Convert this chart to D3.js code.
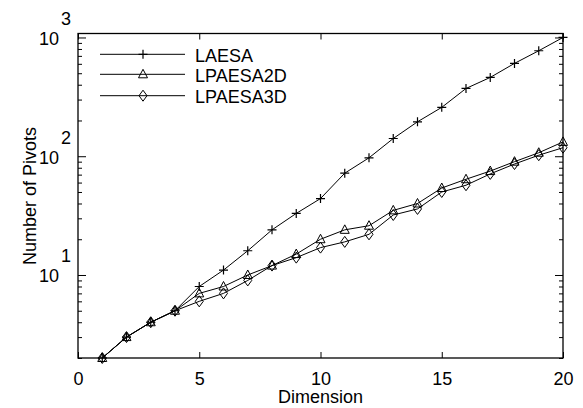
<!DOCTYPE html>
<html>
<head>
<meta charset="utf-8">
<script src="https://cdn.jsdelivr.net/npm/d3@7"></script>
<style>
  body { margin: 0; background: #fff; }
  text { font-family: "Liberation Sans", Arial, sans-serif; fill: #000; }
</style>
</head>
<body>
<svg id="mainsvg" width="583" height="408"></svg>
<script>
const dims = d3.range(1, 21);
const laesa = [2, 3, 4, 5, 8, 11, 16, 24, 33, 44, 72, 97, 141, 195, 258, 372, 461, 605, 773, 1000];
const lpaesa2d = [2, 3, 4, 5, 7, 8, 10, 12, 15, 20, 24, 26, 35, 40, 54, 64, 75, 90, 107, 132];
const lpaesa3d = [2, 3, 4, 5, 6, 7, 9, 12, 14, 17, 19, 22, 32, 36, 50, 57, 71, 86, 102, 118];
const seriesNames = ['LAESA', 'LPAESA2D', 'LPAESA3D'];
const seriesMarks = ['plus', 'triangle', 'diamond'];
const xTicks = [0, 5, 10, 15, 20];
const yMajor = [10, 100, 1000];
const yExp = ['1', '2', '3'];

const svg = d3.select('#mainsvg');
const mLeft = 78, mRight = 563, mTop = 33.5, mBottom = 358;

const x = d3.scaleLinear().domain([0, 20]).range([mLeft, mRight]);
const y = d3.scaleLog().domain([2, 1080]).range([mBottom, mTop]);

// minor ticks 2..9 x 10^k inside domain
const yMinor = [];
[1, 10, 100, 1000].forEach(p => d3.range(2, 10).forEach(m => {
  const v = m * p;
  if (v >= 2 && v <= 1080 && !yMajor.includes(v)) yMinor.push(v);
}));

const axisG = svg.append('g');
const mk = (axis, tx, ty) => {
  const g = axisG.append('g').attr('transform', `translate(${tx},${ty})`).call(axis);
  g.select('.domain').remove();
  g.selectAll('line').attr('stroke', '#000');
  return g;
};
mk(d3.axisBottom(x).tickValues(xTicks).tickSize(-6).tickPadding(14).tickFormat(d3.format('d')), 0, mBottom)
  .selectAll('text').attr('font-size', 18).attr('font-family', '"Liberation Sans", Arial, sans-serif');
mk(d3.axisTop(x).tickValues(xTicks).tickSize(-6).tickFormat(''), 0, mTop);
mk(d3.axisLeft(y).tickValues(yMajor).tickSize(-8).tickFormat(''), mLeft, 0);
mk(d3.axisLeft(y).tickValues(yMinor).tickSize(-4).tickFormat(''), mLeft, 0);
mk(d3.axisRight(y).tickValues(yMajor).tickSize(-8).tickFormat(''), mRight, 0);
mk(d3.axisRight(y).tickValues(yMinor).tickSize(-4).tickFormat(''), mRight, 0);

// y tick labels with exponent
yMajor.forEach((v, i) => {
  svg.append('text').attr('x', 59).attr('y', y(v) + 7.5)
    .attr('text-anchor', 'end').attr('font-size', 18).text('10');
  svg.append('text').attr('x', 61).attr('y', y(v) - 12.5)
    .attr('font-size', 18).text(yExp[i]);
});

svg.append('rect').attr('x', mLeft).attr('y', mTop)
  .attr('width', mRight - mLeft).attr('height', mBottom - mTop)
  .attr('fill', 'none').attr('stroke', '#000').attr('stroke-width', 1.3);

svg.append('text').attr('x', (mLeft + mRight) / 2).attr('y', 403)
  .attr('text-anchor', 'middle').attr('font-size', 18).text('Dimension');
svg.append('text').attr('transform', 'translate(36,196) rotate(-90)')
  .attr('text-anchor', 'middle').attr('font-size', 18).text('Number of Pivots');

const marker = (g, type, cx, cy) => {
  if (type === 'plus') {
    g.append('path').attr('d', `M${cx - 4.5},${cy}H${cx + 4.5}M${cx},${cy - 4.5}V${cy + 4.5}`)
      .attr('stroke', '#000').attr('stroke-width', 1.2).attr('fill', 'none');
  } else if (type === 'triangle') {
    g.append('path').attr('d', `M${cx},${cy - 5}L${cx + 4.5},${cy + 3.5}L${cx - 4.5},${cy + 3.5}Z`)
      .attr('stroke', '#000').attr('stroke-width', 1).attr('fill', 'none');
  } else {
    g.append('path').attr('d', `M${cx},${cy - 5.5}L${cx + 4},${cy}L${cx},${cy + 5.5}L${cx - 4},${cy}Z`)
      .attr('stroke', '#000').attr('stroke-width', 1).attr('fill', 'none');
  }
};

const line = d3.line().x((d, i) => x(dims[i])).y(d => y(d));
[laesa, lpaesa2d, lpaesa3d].forEach((vals, si) => {
  const g = svg.append('g');
  g.append('path').datum(vals).attr('d', line)
    .attr('fill', 'none').attr('stroke', '#000').attr('stroke-width', 1);
  vals.forEach((v, i) => marker(g, seriesMarks[si], x(dims[i]), y(v)));
});

// legend
const legY = [54.3, 74.3, 95.7];
seriesNames.forEach((name, i) => {
  const g = svg.append('g');
  g.append('line').attr('x1', 100).attr('x2', 185).attr('y1', legY[i]).attr('y2', legY[i])
    .attr('stroke', '#000').attr('stroke-width', 1);
  marker(g, seriesMarks[i], 143, legY[i]);
  g.append('text').attr('x', 195).attr('y', legY[i] + 7.5).attr('font-size', 18).text(name);
});
</script>
</body>
</html>
